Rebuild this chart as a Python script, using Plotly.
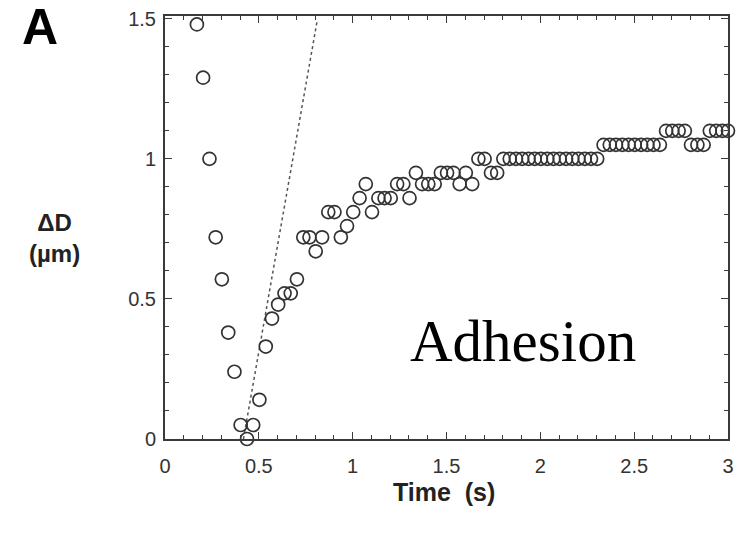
import plotly.graph_objects as go

# Time points (s) and displacement ΔD (µm)
time_s = [0.170, 0.203, 0.237, 0.270, 0.303, 0.337, 0.370, 0.403, 0.437, 0.470,
          0.503, 0.537, 0.570, 0.603, 0.637, 0.670, 0.703, 0.737, 0.770, 0.803,
          0.837, 0.870, 0.903, 0.937, 0.970, 1.003, 1.037, 1.070, 1.103, 1.137,
          1.170, 1.203, 1.237, 1.270, 1.303, 1.337, 1.370, 1.403, 1.437, 1.470,
          1.503, 1.537, 1.570, 1.603, 1.637, 1.670, 1.703, 1.737, 1.770, 1.803,
          1.837, 1.870, 1.903, 1.937, 1.970, 2.003, 2.037, 2.070, 2.103, 2.137,
          2.170, 2.203, 2.237, 2.270, 2.303, 2.337, 2.370, 2.403, 2.437, 2.470,
          2.503, 2.537, 2.570, 2.603, 2.637, 2.670, 2.703, 2.737, 2.770, 2.803,
          2.837, 2.870, 2.903, 2.937, 2.970, 3.000]
delta_d = [1.48, 1.29, 1.00, 0.72, 0.57, 0.38, 0.24, 0.05, 0.00, 0.05,
           0.14, 0.33, 0.43, 0.48, 0.52, 0.52, 0.57, 0.72, 0.72, 0.67,
           0.72, 0.81, 0.81, 0.72, 0.76, 0.81, 0.86, 0.91, 0.81, 0.86,
           0.86, 0.86, 0.91, 0.91, 0.86, 0.95, 0.91, 0.91, 0.91, 0.95,
           0.95, 0.95, 0.91, 0.95, 0.91, 1.00, 1.00, 0.95, 0.95, 1.00,
           1.00, 1.00, 1.00, 1.00, 1.00, 1.00, 1.00, 1.00, 1.00, 1.00,
           1.00, 1.00, 1.00, 1.00, 1.00, 1.05, 1.05, 1.05, 1.05, 1.05,
           1.05, 1.05, 1.05, 1.05, 1.05, 1.10, 1.10, 1.10, 1.10, 1.05,
           1.05, 1.05, 1.10, 1.10, 1.10, 1.10]

# Dotted fit line (initial slope)
fit_t = [0.418, 0.81]
fit_d = [0.0, 1.49]

x_ticks = [0, 0.5, 1, 1.5, 2, 2.5, 3]
x_tick_labels = ["0", "0.5", "1", "1.5", "2", "2.5", "3"]
y_ticks = [0, 0.5, 1, 1.5]
y_tick_labels = ["0", "0.5", "1", "1.5"]

ink = "#3a3a3a"
fig = go.Figure()
fig.add_trace(go.Scatter(x=fit_t, y=fit_d, mode="lines",
                         line=dict(color="#555555", width=1.5, dash="dot"),
                         hoverinfo="skip", showlegend=False))
fig.add_trace(go.Scatter(x=time_s, y=delta_d, mode="markers",
                         marker=dict(symbol="circle-open", size=13,
                                     color="#333333", line=dict(width=1.7, color="#333333")),
                         showlegend=False, cliponaxis=False))

axis_common = dict(showgrid=False, zeroline=False, showline=True, linecolor=ink,
                   linewidth=2, mirror="allticks", ticks="inside", ticklen=7,
                   tickwidth=1.2, tickcolor=ink, automargin=False,
                   tickfont=dict(family="Liberation Sans, Arial", size=20, color="#333333"))

fig.update_layout(
    width=737, height=533,
    margin=dict(l=165, r=9, t=16, b=94),
    paper_bgcolor="white", plot_bgcolor="white",
    xaxis=dict(range=[0, 3], tickvals=x_ticks, ticktext=x_tick_labels,
               minor=dict(dtick=0.1, tick0=0, ticks="inside", ticklen=4,
                          tickwidth=1, tickcolor=ink),
               ticklabelstandoff=8, **axis_common),
    yaxis=dict(range=[0, 1.51], tickvals=y_ticks, ticktext=y_tick_labels,
               minor=dict(dtick=0.1, tick0=0, ticks="inside", ticklen=4,
                          tickwidth=1, tickcolor=ink),
               ticklabelstandoff=3, **axis_common),
    annotations=[
        dict(text="<b>A</b>", xref="paper", yref="paper", x=-(165 - 20) / 563, y=(439 + 3) / 423,
             xanchor="left", yanchor="top", showarrow=False,
             font=dict(family="Liberation Sans, Arial", size=50, color="black")),
        dict(text="<b>ΔD<br>(µm)</b>", xref="paper", yref="paper",
             x=-(165 - 54) / 563, y=(439 - 238) / 423, xanchor="center", yanchor="middle",
             showarrow=False, align="center",
             font=dict(family="Liberation Sans, Arial", size=24, color="#222222")),
        dict(text="<b>Time\u00a0\u00a0(s)</b>", xref="paper", yref="paper",
             x=(444 - 165) / 563, y=-(492 - 439) / 423, xanchor="center", yanchor="middle",
             showarrow=False,
             font=dict(family="Liberation Sans, Arial", size=25, color="#222222")),
        dict(text="Adhesion", xref="paper", yref="paper",
             x=(523 - 165) / 563, y=(439 - 341) / 423, xanchor="center", yanchor="middle",
             showarrow=False,
             font=dict(family="Liberation Serif, Times New Roman", size=59, color="black")),
    ],
)

fig.write_html("out.html", config={"displayModeBar": False},
               post_script="document.body.style.margin='0';")
